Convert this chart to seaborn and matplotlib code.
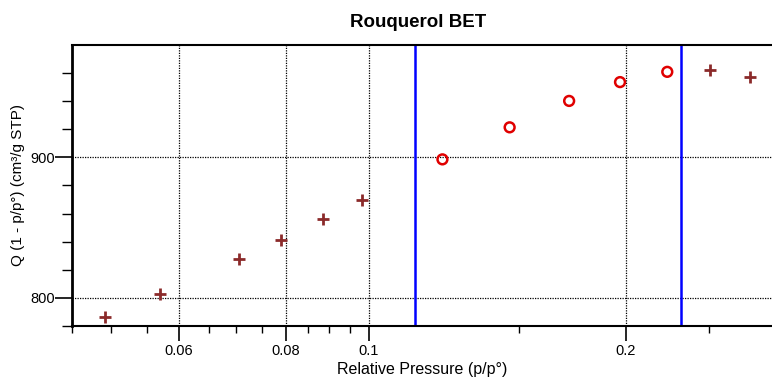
import matplotlib
matplotlib.use("Agg")
import matplotlib.pyplot as plt
import matplotlib.ticker as mticker
import seaborn as sns
import pandas as pd

# Data
excluded_p = [0.0492, 0.0571, 0.0705, 0.0790, 0.0885, 0.0982, 0.2509, 0.2793]
excluded_q = [786.6, 802.9, 827.6, 841.4, 856.4, 870.0, 962.4, 957.1]
used_p = [0.1220, 0.1462, 0.1716, 0.1968, 0.2235]
used_q = [898.6, 921.4, 940.2, 953.6, 960.9]
range_lines = [0.1134, 0.2319]
x_major = [0.06, 0.08, 0.1, 0.2]
x_major_labels = ["0.06", "0.08", "0.1", "0.2"]
x_minor = [0.045, 0.05, 0.055, 0.065, 0.07, 0.075, 0.085, 0.09, 0.095, 0.15, 0.25]
y_major = [800, 900]
y_minor = [780, 820, 840, 860, 880, 920, 940, 960]

sns.set_style("white")
plt.rcParams['font.family'] = ['Liberation Sans', 'DejaVu Sans']
plt.rcParams['text.color'] = 'black'
plt.rcParams['axes.labelcolor'] = 'black'

df = pd.concat([
    pd.DataFrame({"p": excluded_p, "q": excluded_q, "kind": "excluded"}),
    pd.DataFrame({"p": used_p, "q": used_q, "kind": "used"}),
])

fig = plt.figure(figsize=(7.72, 3.79), dpi=100)
ax = fig.add_axes([72/772, 53/379, 1 - 72/772, (326-45)/379])
ax.set_xscale("log")

for xv in x_major:
    ax.axvline(xv, color="black", ls=(0, (1, 1)), lw=0.9, zorder=1)
for yv in y_major:
    ax.axhline(yv, color="black", ls=(0, (1, 1)), lw=0.9, zorder=1)

for xv in range_lines:
    ax.axvline(xv, color="#0000ff", lw=1.8, zorder=2)

sns.scatterplot(data=df[df.kind == "excluded"], x="p", y="q", marker="+",
                s=75, color="#8b2a2a", linewidth=2, ax=ax, zorder=3, legend=False)
sns.scatterplot(data=df[df.kind == "used"], x="p", y="q", marker="o",
                s=50, facecolor="none", edgecolor="#e00000", linewidth=1.8,
                ax=ax, zorder=3, legend=False)

ax.set_xlim(0.045, 0.2963)
ax.set_ylim(780, 980)

ax.xaxis.set_major_locator(mticker.FixedLocator(x_major))
ax.xaxis.set_major_formatter(mticker.FixedFormatter(x_major_labels))
ax.xaxis.set_minor_locator(mticker.FixedLocator(x_minor))
ax.xaxis.set_minor_formatter(mticker.NullFormatter())
ax.yaxis.set_major_locator(mticker.FixedLocator(y_major))
ax.yaxis.set_minor_locator(mticker.FixedLocator(y_minor))

ax.tick_params(axis="x", which="major", direction="out", length=11, width=1.2,
               labelsize=10.5, pad=2, colors="black")
ax.tick_params(axis="x", which="minor", direction="out", length=5, width=1.0,
               colors="black")
ax.tick_params(axis="y", which="major", direction="out", length=12, width=1.2,
               labelsize=10.5, pad=0, colors="black")
ax.tick_params(axis="y", which="minor", direction="out", length=7, width=1.0,
               colors="black")
ax.tick_params(bottom=True, left=True, which="both")

ax.spines["right"].set_visible(False)
ax.spines["left"].set_linewidth(2.0)
ax.spines["bottom"].set_linewidth(1.5)
ax.spines["top"].set_linewidth(1.5)
for s in ["left", "bottom", "top"]:
    ax.spines[s].set_color("black")

ax.set_xlabel("Relative Pressure (p/p°)", fontsize=11.5, labelpad=3)
ax.set_ylabel("Q (1 - p/p°) (cm³/g STP)", fontsize=11, labelpad=4)
ax.set_title("Rouquerol BET", fontsize=13.5, fontweight="bold", pad=13,
             color="black", x=0.494)

fig.savefig("out.png", dpi=100)
